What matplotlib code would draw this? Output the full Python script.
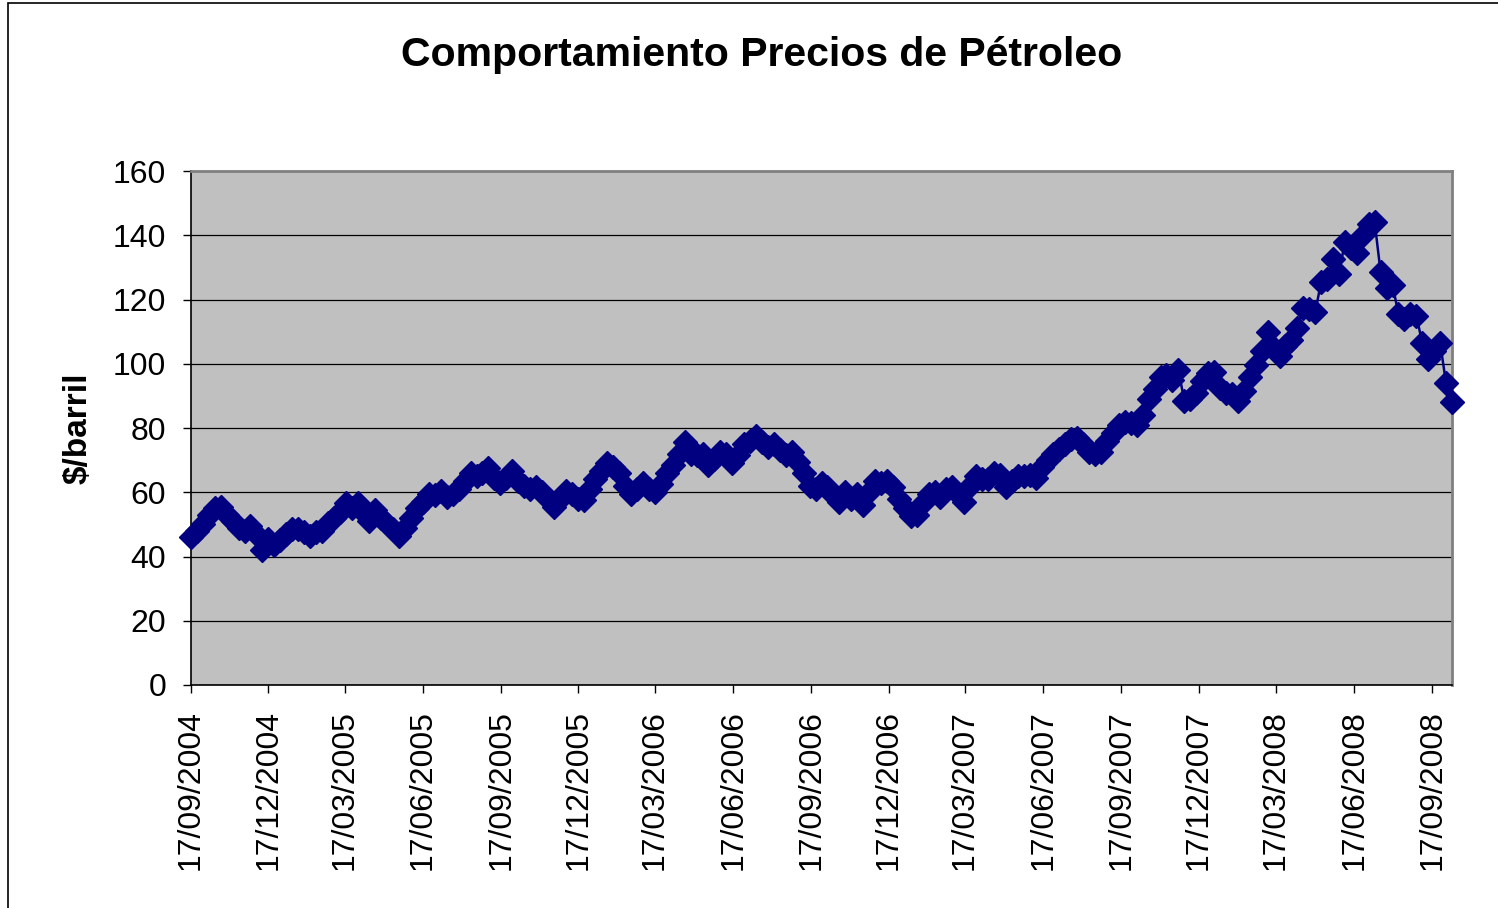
import numpy as np
import pandas as pd
import matplotlib
matplotlib.use('Agg')
import matplotlib.pyplot as plt
import matplotlib.dates as mdates
from matplotlib.patches import Rectangle

# precios semanales ($/barril), un viernes por semana desde 17/09/2004
precios_2004 = [46, 48, 50, 53, 55, 55.5, 53, 51, 49, 48, 49.5, 47, 42, 45.5, 43.5, 45]
precios_2005 = [47, 48.5, 48.5, 47.5, 46.5, 47.5, 48, 50.5, 52, 54, 56.5, 55, 56.5, 54,
                51, 54.5, 52, 50, 48.5, 46.5, 49, 52, 55, 57, 59.5, 59, 60.5, 58.5, 59.5, 61,
                63.5, 66, 65, 66, 67.5, 64.5, 63, 64.5, 66.5, 63.5, 62, 61, 61.5, 60,
                58, 55.5, 58, 60.5, 59.5, 58, 57.5, 61]
precios_2006 = [64, 66.5, 69, 68, 66, 62, 59.5, 61, 63, 61, 60, 62.5, 66, 68.5, 72, 75.5,
                72, 71.5, 72, 68.5, 70.5, 72.5,
                72, 69, 71.5, 75, 76, 77.5, 75.5, 74, 75, 73, 71.5, 72.5, 69.5, 66, 62, 61,
                63, 61.5, 59, 57, 60, 58, 59.5, 56, 60, 63.5, 63, 63.5, 61.5, 58]
precios_2007 = [55, 52.5, 53, 56.5, 59.5, 60, 58.5, 61, 61.5, 59.5, 57, 62, 65, 64, 64, 66,
                65.5, 61.5, 63.5, 65, 65, 65.5, 64.5, 68, 70, 72, 73.5, 75, 76.5, 77, 75,
                72.5, 72, 72.5, 76, 78.5, 81, 82, 81.5, 81, 84, 89, 92, 96, 96.5, 95, 98,
                88.5, 89, 91, 94.5, 97]
precios_2008 = [97.5, 92.5, 91, 90.5, 88.5, 91.5, 96, 99.5, 104, 110, 105, 102.5, 105.5,
                107.5, 111, 117.5, 117, 116, 125.5, 126.5, 132.5, 128, 138, 136, 134.5, 140,
                143.5, 144, 128.5, 123.5, 124.5, 115.5, 114, 115.5, 115, 106.5, 101.5, 104,
                106.5, 94, 88]

fecha_inicio = '2004-09-17'
etiquetas_x = ['17/09/2004', '17/12/2004', '17/03/2005', '17/06/2005', '17/09/2005',
               '17/12/2005', '17/03/2006', '17/06/2006', '17/09/2006', '17/12/2006',
               '17/03/2007', '17/06/2007', '17/09/2007', '17/12/2007', '17/03/2008',
               '17/06/2008', '17/09/2008']
ticks_y = [0, 20, 40, 60, 80, 100, 120, 140, 160]

plt.rcParams['font.family'] = ['Liberation Sans', 'DejaVu Sans']

precios = precios_2004 + precios_2005 + precios_2006 + precios_2007 + precios_2008
fechas = pd.date_range(fecha_inicio, periods=len(precios), freq='7D')

W, H = 1498, 908
fig = plt.figure(figsize=(W / 100, H / 100), dpi=100)
ax = fig.add_axes([191 / W, 1 - 685 / H, (1452 - 191) / W, (685 - 171) / H])

# marco del grafico (estilo Excel)
fig.patches.append(Rectangle((8 / W, -0.05), 1.2, 1.05 - 3 / H, transform=fig.transFigure,
                             fill=False, edgecolor='black', linewidth=1.2))

ax.set_facecolor('#C0C0C0')
ax.plot(fechas, precios, color='#000080', linewidth=1.8, marker='D', markersize=12,
        markerfacecolor='#000080', markeredgecolor='#000080', zorder=3, clip_on=False)

ax.set_xlim(fechas[0], fechas[-1])
ax.set_ylim(0, 160)
ax.set_yticks(ticks_y)
ax.yaxis.grid(True, color='black', linewidth=0.9)
ax.set_axisbelow(True)

pos_x = pd.to_datetime(etiquetas_x, format='%d/%m/%Y')
ax.set_xticks(mdates.date2num(pos_x))
ax.set_xticklabels(etiquetas_x, rotation=90, ha='center', va='top')

ax.tick_params(axis='both', direction='out', length=6, width=1, labelsize=23, color='black')
ax.tick_params(axis='y', pad=12)
ax.tick_params(axis='x', pad=12)

for s in ['left', 'bottom']:
    ax.spines[s].set_color('black')
    ax.spines[s].set_linewidth(1.2)
for s in ['top', 'right']:
    ax.spines[s].set_color('#808080')
    ax.spines[s].set_linewidth(2)

ax.set_ylabel('$/barril', fontsize=24, fontweight='bold', labelpad=14)
fig.text(762 / W, 1 - 55 / H, 'Comportamiento Precios de Pétroleo', ha='center', va='center',
         fontsize=29.5, fontweight='bold')

plt.savefig('out.png', dpi=100)
